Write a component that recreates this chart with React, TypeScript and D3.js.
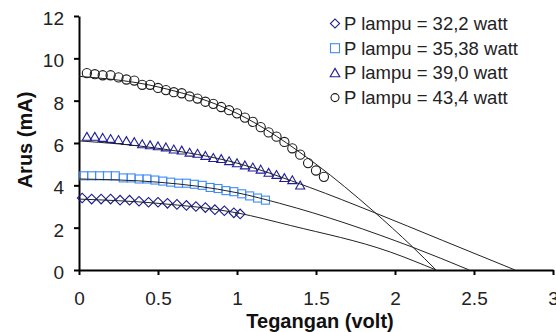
import * as d3 from "d3";
import { useRef, useEffect } from "react";

// axis ticks
const xTicks = [0, 0.5, 1, 1.5, 2, 2.5, 3];
const yTicks = [0, 2, 4, 6, 8, 10, 12];

const legendLabels = [
  "P lampu = 32,2 watt",
  "P lampu = 35,38 watt",
  "P lampu = 39,0 watt",
  "P lampu = 43,4 watt",
];

// measured points: tegangan (volt) / arus (mA)
const v32 = [0.02, 0.08, 0.14, 0.2, 0.26, 0.32, 0.38, 0.44, 0.5, 0.56, 0.62, 0.68, 0.74, 0.8, 0.86, 0.92, 0.98, 1.02];
const i32 = [3.4, 3.35, 3.35, 3.35, 3.3, 3.3, 3.25, 3.2, 3.2, 3.15, 3.1, 3.05, 3.0, 2.95, 2.85, 2.8, 2.7, 2.65];

const v35 = [0.03, 0.08, 0.13, 0.18, 0.23, 0.28, 0.33, 0.38, 0.43, 0.48, 0.53, 0.58, 0.63, 0.68, 0.73, 0.78, 0.83, 0.88, 0.93, 0.98, 1.03, 1.08, 1.13, 1.18];
const i35 = [4.45, 4.45, 4.45, 4.45, 4.45, 4.35, 4.35, 4.3, 4.3, 4.25, 4.2, 4.15, 4.1, 4.1, 4.05, 4.0, 3.9, 3.85, 3.75, 3.7, 3.6, 3.5, 3.4, 3.3];

const v39 = [0.05, 0.1, 0.15, 0.2, 0.25, 0.3, 0.35, 0.4, 0.45, 0.5, 0.55, 0.6, 0.65, 0.7, 0.75, 0.8, 0.85, 0.9, 0.95, 1.0, 1.05, 1.1, 1.15, 1.2, 1.25, 1.3, 1.35, 1.4];
const i39 = [6.3, 6.3, 6.25, 6.2, 6.15, 6.1, 6.05, 5.95, 5.9, 5.85, 5.8, 5.7, 5.65, 5.55, 5.5, 5.4, 5.3, 5.25, 5.15, 5.05, 4.95, 4.85, 4.75, 4.6, 4.5, 4.35, 4.25, 4.0];

const v43 = [0.05, 0.1, 0.15, 0.2, 0.25, 0.3, 0.35, 0.4, 0.45, 0.5, 0.55, 0.6, 0.65, 0.7, 0.75, 0.8, 0.85, 0.9, 0.95, 1.0, 1.05, 1.1, 1.15, 1.2, 1.25, 1.3, 1.35, 1.4, 1.45, 1.5, 1.55];
const i43 = [9.3, 9.25, 9.2, 9.2, 9.1, 9.0, 8.95, 8.75, 8.75, 8.6, 8.5, 8.4, 8.35, 8.2, 8.1, 7.95, 7.85, 7.7, 7.55, 7.4, 7.2, 7.0, 6.75, 6.5, 6.3, 6.05, 5.75, 5.45, 5.05, 4.7, 4.4];

// trendlines [volt, mA]
const trend32 = [[0, 3.35], [0.5, 3.15], [1.0, 2.7], [1.34, 2.1], [1.97, 0.85], [2.26, 0]];
const trend35 = [[0, 4.3], [0.5, 4.15], [1.0, 3.65], [1.27, 3.15], [2.11, 1.08], [2.47, 0]];
const trend39 = [[0, 6.1], [0.5, 5.75], [1.0, 5.05], [1.46, 3.9], [1.86, 2.74], [2.3, 1.4], [2.76, 0]];
const trend43 = [[0, 9.15], [0.5, 8.65], [1.0, 7.4], [1.5, 5.0], [1.86, 2.8], [2.11, 1.1], [2.26, 0]];

const FONT = "'Liberation Sans', Arial, Helvetica, sans-serif";

export default function App() {
  const svgRef = useRef<SVGSVGElement>(null);

  useEffect(() => {
    const svg = d3.select(svgRef.current);
    svg.selectAll("*").remove();

    const x = d3.scaleLinear().domain([0, 3]).range([79, 553]);
    const y = d3.scaleLinear().domain([0, 12]).range([270, 16]);

    // axes
    const gx = svg.append("g").attr("transform", `translate(0,${y(0)})`)
      .call(d3.axisBottom(x).tickValues(xTicks).tickSize(5).tickSizeOuter(0).tickPadding(17).tickFormat(d => String(d)));
    const gy = svg.append("g").attr("transform", `translate(${x(0)},0)`)
      .call(d3.axisLeft(y).tickValues(yTicks).tickSize(5).tickSizeOuter(0).tickPadding(10).tickFormat(d => String(d)));
    [gx, gy].forEach(g => {
      g.attr("font-family", FONT).attr("font-size", 19);
      g.selectAll("path, line").attr("stroke", "#000").attr("stroke-width", 2);
      g.selectAll("text").attr("fill", "#222");
    });
    gy.selectAll("text").attr("dy", "0.45em");

    // markers
    const series = [
      { v: v32, i: i32, shape: "diamond", color: "#1c1c8c" },
      { v: v35, i: i35, shape: "square", color: "#3f8cf5" },
      { v: v39, i: i39, shape: "triangle", color: "#1f1f9c" },
      { v: v43, i: i43, shape: "circle", color: "#1a1a1a" },
    ];

    const drawMarker = (g: any, shape: string, cx: number, cy: number, color: string, small = false) => {
      if (shape === "circle") {
        g.append("circle").attr("cx", cx).attr("cy", cy).attr("r", small ? 4 : 4.6)
          .attr("fill", "none").attr("stroke", color).attr("stroke-width", 1.1);
      } else if (shape === "square") {
        const s = small ? 9 : 8;
        g.append("rect").attr("x", cx - s / 2).attr("y", cy - s / 2).attr("width", s).attr("height", s)
          .attr("fill", "none").attr("stroke", color).attr("stroke-width", 1.1);
      } else if (shape === "triangle") {
        g.append("path").attr("d", d3.symbol(d3.symbolTriangle, small ? 40 : 36)())
          .attr("transform", `translate(${cx},${cy + 1})`)
          .attr("fill", "none").attr("stroke", color).attr("stroke-width", 1.1);
      } else {
        g.append("path").attr("d", d3.symbol(d3.symbolSquare, small ? 42 : 46)())
          .attr("transform", `translate(${cx},${cy}) rotate(45)`)
          .attr("fill", "none").attr("stroke", color).attr("stroke-width", 1.1);
      }
    };

    const gm = svg.append("g");
    series.forEach(s => {
      s.v.forEach((vv, k) => drawMarker(gm, s.shape, x(vv), y(s.i[k]), s.color));
    });

    // trendlines
    const line = d3.line<number[]>().x(d => x(d[0])).y(d => y(d[1])).curve(d3.curveMonotoneX);
    [trend32, trend35, trend39, trend43].forEach(t => {
      svg.append("path").attr("d", line(t)).attr("fill", "none").attr("stroke", "#222").attr("stroke-width", 1);
    });

    // legend
    const lg = svg.append("g");
    legendLabels.forEach((label, k) => {
      const cy = 23.5 + k * 24.7;
      drawMarker(lg, series[k].shape, 335, cy, series[k].color, true);
      lg.append("text").attr("x", 344).attr("y", cy + 6.5).attr("font-family", FONT).attr("font-size", 18.5)
        .attr("fill", "#222").text(label);
    });

    // axis titles
    svg.append("text").attr("x", 320).attr("y", 328).attr("text-anchor", "middle").attr("font-family", FONT)
      .attr("font-size", 20).attr("font-weight", "bold").attr("fill", "#111").text("Tegangan (volt)");
    svg.append("text").attr("transform", "rotate(-90)").attr("x", -140).attr("y", 32).attr("text-anchor", "middle")
      .attr("font-family", FONT).attr("font-size", 20).attr("font-weight", "bold").attr("fill", "#111").text("Arus (mA)");
  }, []);

  return (
    <svg ref={svgRef} width={556} height={332}
      style={{ position: "absolute", left: 0, top: 0, background: "#fff" }} />
  );
}
